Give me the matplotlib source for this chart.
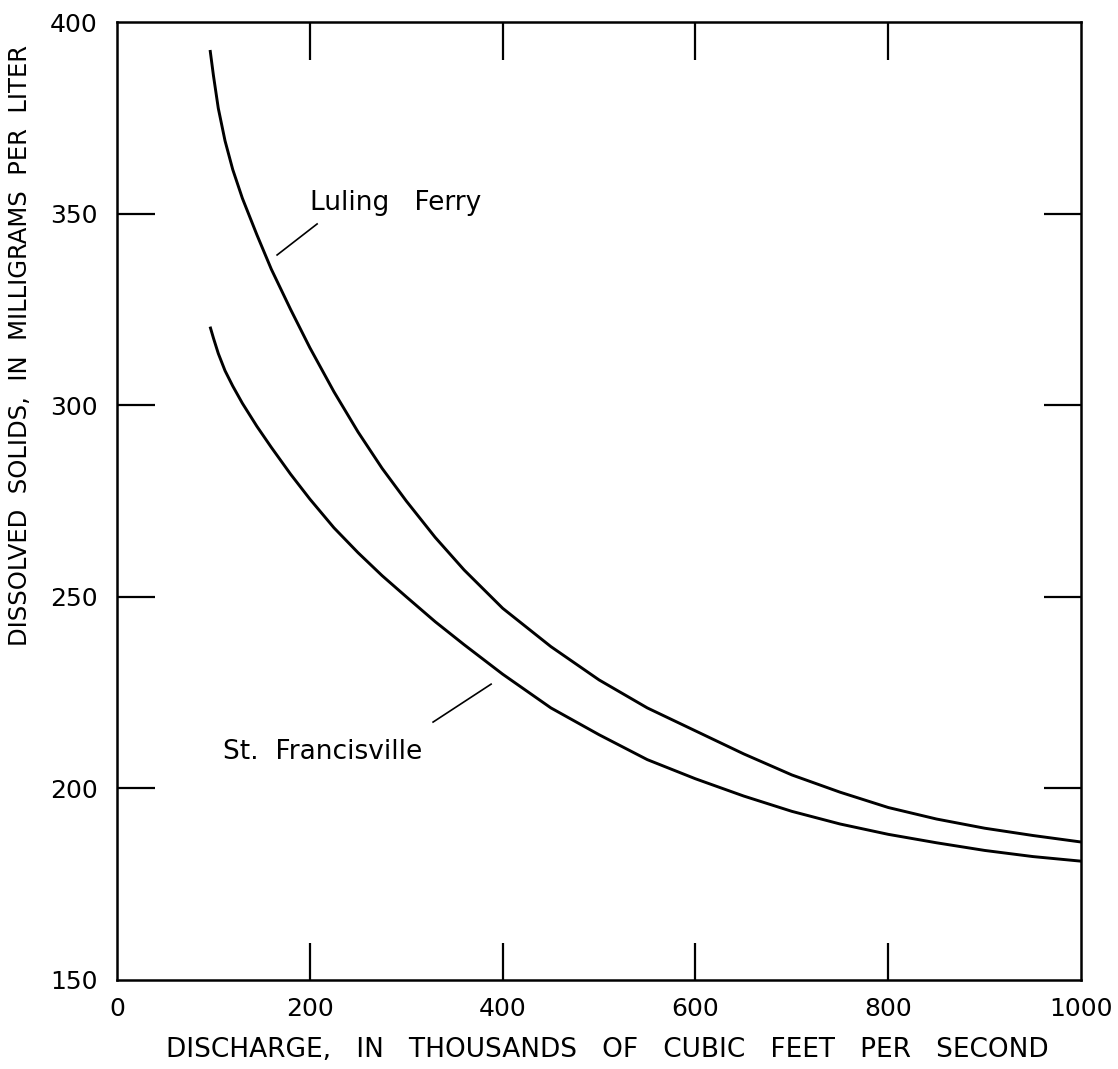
import matplotlib
matplotlib.use("Agg")
import matplotlib.pyplot as plt

# Discharge (thousands of cfs) vs dissolved solids (mg/L)
luling_q = [96.5, 100, 105, 112, 120, 130, 145, 160, 180, 200, 225, 250, 275, 300,
            330, 360, 400, 450, 500, 550, 600, 650, 700, 750, 800, 850, 900, 950, 1000]
luling_ds = [392.7, 386, 377.5, 369, 361.5, 354, 344.5, 335.5, 325, 315, 303.5, 293,
             283.5, 275, 265.5, 257, 247, 237, 228.3, 221, 215, 209, 203.5, 199,
             195, 192, 189.6, 187.7, 186]

stf_q = [96.5, 100, 105, 112, 120, 130, 145, 160, 180, 200, 225, 250, 275, 300,
         330, 360, 400, 450, 500, 550, 600, 650, 700, 750, 800, 850, 900, 950, 1000]
stf_ds = [320.5, 317.5, 313.5, 309, 305, 300.5, 294.5, 289, 282, 275.5, 268, 261.5,
          255.5, 250, 243.5, 237.5, 229.8, 221, 214, 207.5, 202.5, 198, 194, 190.7,
          188, 185.8, 183.8, 182.2, 181]

x_ticks = [0, 200, 400, 600, 800, 1000]
y_ticks = [150, 200, 250, 300, 350, 400]

plt.rcParams["font.family"] = ["DejaVu Sans"]

fig = plt.figure(figsize=(11.18, 10.69), dpi=100)
ax = fig.add_axes([0.1047, 0.0833, 0.8623, 0.8961])

ax.plot(luling_q, luling_ds, color="black", lw=2.1, solid_capstyle="butt")
ax.plot(stf_q, stf_ds, color="black", lw=2.1, solid_capstyle="butt")

ax.set_xlim(0, 1000)
ax.set_ylim(150, 400)
ax.set_xticks(x_ticks)
ax.set_yticks(y_ticks)
ax.tick_params(direction="in", length=27, width=1.6, top=True, right=True,
               labelsize=18, colors="black")
ax.tick_params(axis="x", pad=12)
ax.tick_params(axis="y", pad=14)
for s in ax.spines.values():
    s.set_linewidth(1.8)

# no tick marks at the corners, only the labels
for t in (ax.xaxis.get_major_ticks()[0], ax.xaxis.get_major_ticks()[-1],
          ax.yaxis.get_major_ticks()[0], ax.yaxis.get_major_ticks()[-1]):
    t.tick1line.set_visible(False)
    t.tick2line.set_visible(False)

# curve labels with short leader lines
ax.text(200, 352.8, "Luling   Ferry", fontsize=19, va="center", ha="left")
ax.plot([166, 207.5], [339.2, 347.3], color="black", lw=1.2)
ax.text(110, 209.5, "St.  Francisville", fontsize=19, va="center", ha="left")
ax.plot([327.8, 388], [217.3, 227.2], color="black", lw=1.2)

fig.text(607 / 1118, 1 - 1050 / 1069,
         "DISCHARGE,   IN   THOUSANDS   OF   CUBIC   FEET   PER   SECOND",
         fontsize=19, ha="center", va="center")
fig.text(20 / 1118, 1 - 345 / 1069, "DISSOLVED  SOLIDS,  IN  MILLIGRAMS  PER  LITER",
         fontsize=17.5, ha="center", va="center", rotation=90)

fig.savefig("out.png", dpi=100)
